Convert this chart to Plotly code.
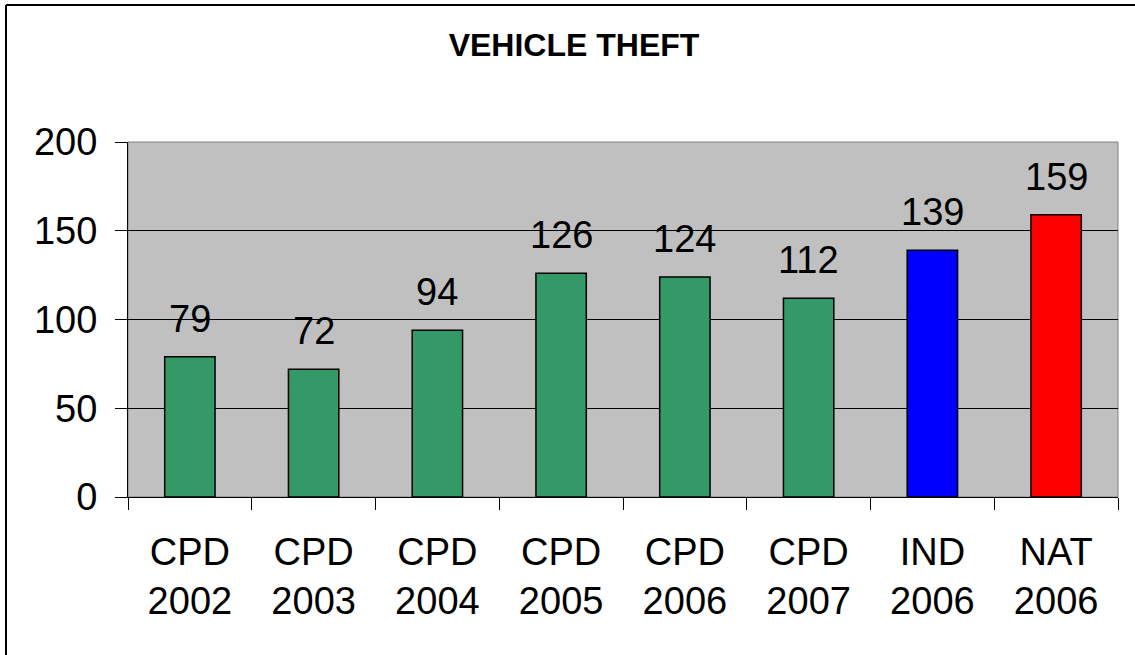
import plotly.graph_objects as go

categories = ["CPD<br>2002", "CPD<br>2003", "CPD<br>2004", "CPD<br>2005", "CPD<br>2006", "CPD<br>2007", "IND<br>2006", "NAT<br>2006"]
values = [79, 72, 94, 126, 124, 112, 139, 159]
bar_colors = ["#339966", "#339966", "#339966", "#339966", "#339966", "#339966", "#0000FF", "#FF0000"]
y_ticks = [0, 50, 100, 150, 200]

FONT = "Liberation Sans, Arial, sans-serif"

fig = go.Figure()
fig.add_trace(go.Bar(
    x=categories, y=values,
    marker=dict(color=bar_colors, line=dict(color="black", width=1.5)),
    hoverinfo="skip",
))

for c, v in zip(categories, values):
    fig.add_annotation(x=c, y=v, text=str(v), showarrow=False,
                       yanchor="bottom", yshift=15,
                       font=dict(family=FONT, size=38, color="black"))

W, H = 1135, 655
L, R, T, B = 128, 17, 142, 158
pw, ph = W - L - R, H - T - B
def px(x):
    return (x - L) / pw
def py(y):
    return (H - B - y) / ph

# plot area border (gray top/right)
fig.add_shape(type="rect", xref="paper", yref="paper", x0=0, x1=1, y0=0, y1=1,
              line=dict(color="#808080", width=1), layer="below")
# outer chart border (left and top visible)
fig.add_shape(type="line", xref="paper", yref="paper", x0=px(6), x1=px(6), y0=py(5), y1=py(660),
              line=dict(color="black", width=2))
fig.add_shape(type="line", xref="paper", yref="paper", x0=px(6), x1=px(1140), y0=py(5), y1=py(5),
              line=dict(color="black", width=2))

fig.update_layout(
    width=W, height=H,
    margin=dict(l=L, r=R, t=T, b=B, autoexpand=False),
    paper_bgcolor="white", plot_bgcolor="#C0C0C0",
    bargap=0.593,
    showlegend=False,
    font=dict(family=FONT, color="black"),
    title=dict(text="<b>VEHICLE THEFT</b>", x=574 / W, xanchor="center", xref="container",
               y=1 - 34 / H, yanchor="top", yref="container",
               font=dict(family=FONT, size=32, color="black")),
)
fig.update_xaxes(
    type="category", showline=True, linecolor="black", linewidth=1,
    ticks="outside", ticklen=12, tickcolor="black", tickwidth=1, tickson="boundaries",
    showgrid=False, tickfont=dict(family=FONT, size=38, color="black"),
    ticklabelstandoff=21,
)
fig.update_yaxes(
    range=[0, 200], tickvals=y_ticks, showline=True, linecolor="black", linewidth=1,
    ticks="outside", ticklen=12, tickcolor="black", tickwidth=1,
    showgrid=True, gridcolor="black", gridwidth=1, zeroline=False,
    tickfont=dict(family=FONT, size=38, color="black"), ticklabelstandoff=10,
)

fig.write_html("out.html", config={"displayModeBar": False},
               post_script="document.body.style.margin='0';document.body.style.overflow='hidden';")
